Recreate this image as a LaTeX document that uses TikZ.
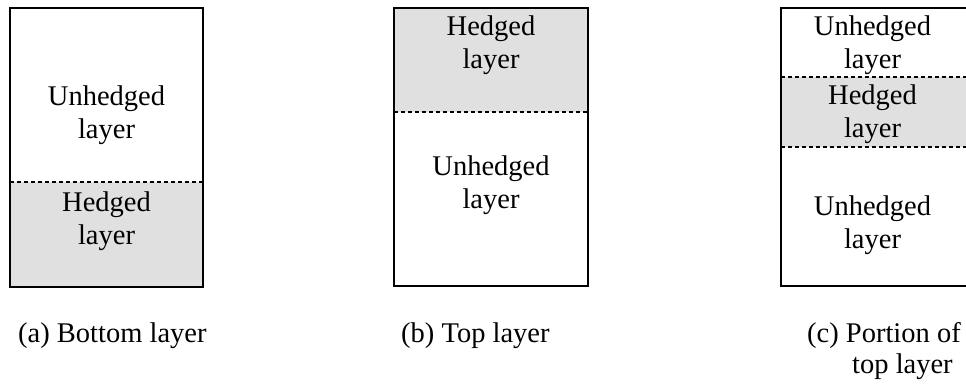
\documentclass[tikz,border=0pt]{standalone}
\usepackage{fontspec}
\setmainfont{Liberation Serif}
\definecolor{hedgefill}{HTML}{E0E0E0}
\begin{document}
\begin{tikzpicture}[x=1pt,y=-1pt,
  frame/.style={draw=black,line width=2.3pt},
  divider/.style={draw=black,line width=1.5pt,dash pattern=on 4pt off 3pt},
  hedged/.style={fill=hedgefill},
  lbl/.style={font=\fontsize{28.5}{33.5}\selectfont,align=center,inner sep=0pt},
  captxt/.style={font=\fontsize{28.5}{31}\selectfont,inner sep=0pt}]
\useasboundingbox (0,0) rectangle (966,388);
% (a) bottom layer
\fill[hedged] (10,182) rectangle (203,287);
\draw[divider] (10,182) -- (203,182);
\draw[frame] (10,8) rectangle (203,287);
\node[lbl] (aU) at (106.5,115) {Unhedged\\layer};
\node[lbl] (aH) at (106.5,221) {Hedged\\layer};
% (b) top layer
\fill[hedged] (394,8) rectangle (588,112);
\draw[divider] (394,112) -- (588,112);
\draw[frame] (394,8) rectangle (588,286);
\node[lbl] (bH) at (491,45) {Hedged\\layer};
\node[lbl] (bU) at (491,185) {Unhedged\\layer};
% (c) portion of top layer
\fill[hedged] (781,77) rectangle (972,147);
\draw[divider] (781,77) -- (972,77);
\draw[divider] (781,147) -- (972,147);
\draw[frame] (781,8) rectangle (972,286);
\node[lbl] (cU1) at (872.5,45) {Unhedged\\layer};
\node[lbl] (cH) at (872.5,114) {Hedged\\layer};
\node[lbl] (cU2) at (872.5,225) {Unhedged\\layer};
% captions
\node[captxt,anchor=base west] (capa) at (18,342) {(a) Bottom layer};
\node[captxt,anchor=base west] (capb) at (401,342) {(b) Top layer};
\node[captxt,anchor=base west] (capc1) at (807,342) {(c) Portion of};
\node[captxt,anchor=base west] (capc2) at (852,373) {top layer};
\end{tikzpicture}
\end{document}
